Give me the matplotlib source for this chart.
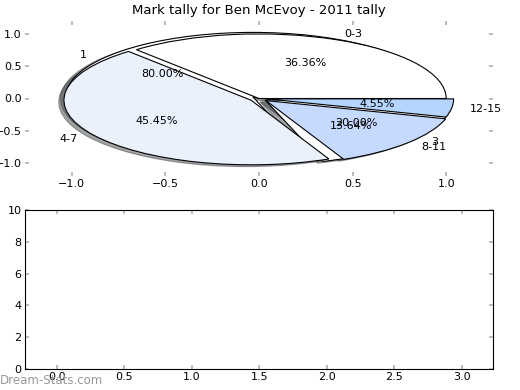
import matplotlib
matplotlib.use("Agg")
import matplotlib.pyplot as plt

# data
labels_a = ["1", "3"]
fracs_a = [80, 20]
labels_b = ["0-3", "4-7", "8-11", "12-15"]
fracs_b = [8, 10, 3, 1]
title = "Mark tally for Ben McEvoy - 2011 tally"

colors_a = ["#ffffff", "#ffffff"]
colors_b = ["#ffffff", "#eaf1fd", "#c6d9fe", "#b3d5fe"]

fig = plt.figure(figsize=(5.2, 3.9), dpi=100)

# top: the two overlaid pies, stretched to the axes
ax1 = fig.add_axes([25 / 520, 1 - 176 / 390, 468 / 520, 155 / 390])
wp = {"edgecolor": "black", "linewidth": 0.8}
tp = {"fontsize": 8}
ax1.pie(fracs_a, labels=labels_a, colors=colors_a, autopct="%1.2f%%",
        explode=(0.04, 0.04), shadow=True, wedgeprops=wp, textprops=tp)
ax1.pie(fracs_b, labels=labels_b, colors=colors_b, autopct="%1.2f%%",
        explode=(0, 0.05, 0.05, 0.04), shadow=True, wedgeprops=wp, textprops=tp)
ax1.set_aspect("auto")
ax1.set_frame_on(False)
ax1.set_xlim(-1.25, 1.25)
ax1.set_ylim(-1.2, 1.2)
ax1.set_xticks([-1.0, -0.5, 0.0, 0.5, 1.0])
ax1.set_yticks([-1.0, -0.5, 0.0, 0.5, 1.0])
ax1.set_title(title, fontsize=9.5, pad=5)

# bottom: empty axes
ax2 = fig.add_axes([25 / 520, 1 - 369 / 390, 468 / 520, 159 / 390])
ax2.set_xlim(-0.235, 3.23)
ax2.set_ylim(0, 10)
ax2.set_xticks([0.0, 0.5, 1.0, 1.5, 2.0, 2.5, 3.0])
ax2.set_yticks([0, 2, 4, 6, 8, 10])

for ax in (ax1, ax2):
    ax.tick_params(direction="in", length=3, width=1.2, color="#b0b0b0",
                   labelsize=8, top=True, right=True, pad=2.5)

fig.text(0.0, 0.016, "Dream-Stats.com", color="#999999", fontsize=8.5)

fig.savefig("out.png", dpi=100)
